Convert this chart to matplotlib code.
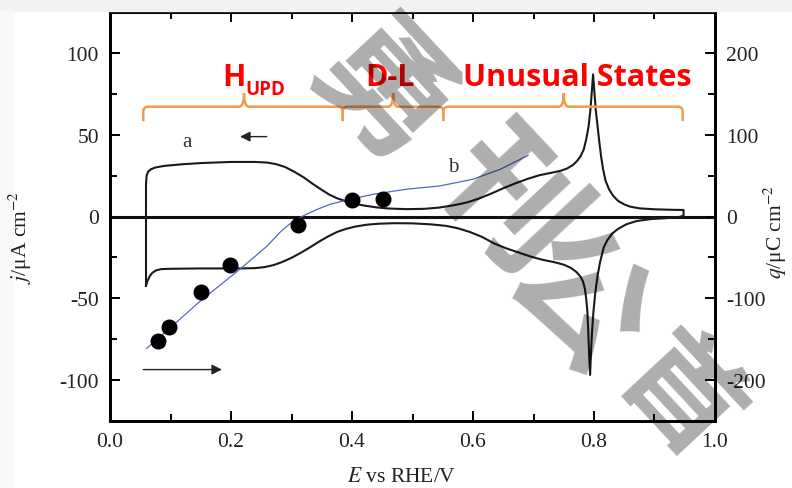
import matplotlib
matplotlib.use("Agg")
import matplotlib.pyplot as plt
from matplotlib.path import Path
from matplotlib.patches import PathPatch, Rectangle
from matplotlib.ticker import MultipleLocator, FormatStrFormatter

# ---------------- data ----------------
# anodic (upper) branch of the CV, j in uA cm^-2
E_up = [0.0595, 0.0595, 0.0605, 0.063, 0.068, 0.075, 0.090, 0.120, 0.150, 0.200,
        0.240, 0.260, 0.275, 0.290, 0.305, 0.320, 0.335, 0.350, 0.362, 0.375,
        0.390, 0.405, 0.420, 0.440, 0.460, 0.490, 0.520, 0.545, 0.570, 0.590,
        0.610, 0.630, 0.650, 0.670, 0.690, 0.710, 0.730, 0.745, 0.755, 0.765,
        0.772, 0.778, 0.783, 0.787, 0.791, 0.794, 0.7965, 0.7985, 0.8005, 0.803,
        0.806, 0.809, 0.812, 0.815, 0.819, 0.825, 0.832, 0.840, 0.850, 0.860,
        0.875, 0.900, 0.930, 0.948]
j_up = [-42.4, 20.0, 25.0, 27.5, 29.0, 30.0, 31.0, 32.0, 32.7, 33.4,
        33.4, 33.0, 32.0, 30.2, 27.3, 24.0, 20.0, 16.3, 13.5, 11.2,
        9.3, 7.8, 6.7, 5.6, 4.9, 4.5, 4.7, 5.5, 7.0, 8.6,
        11.0, 14.0, 17.3, 20.3, 23.0, 25.3, 26.8, 28.0, 29.3, 31.5,
        34.0, 37.0, 41.0, 47.0, 55.0, 65.0, 77.0, 87.0, 77.0, 65.0,
        55.0, 45.0, 36.0, 29.0, 22.0, 16.5, 12.5, 9.5, 7.4, 6.0,
        5.0, 4.4, 4.1, 4.0]
# cathodic (lower) branch, scanned back from high to low potential
E_down = [0.948, 0.940, 0.920, 0.893, 0.870, 0.854, 0.840, 0.830, 0.822, 0.816,
          0.810, 0.806, 0.802, 0.799, 0.7965, 0.7945, 0.7935, 0.792, 0.7905, 0.789,
          0.787, 0.785, 0.782, 0.778, 0.771, 0.762, 0.750, 0.735, 0.715, 0.695,
          0.675, 0.655, 0.635, 0.615, 0.595, 0.575, 0.555, 0.530, 0.500, 0.470,
          0.445, 0.425, 0.405, 0.390, 0.375, 0.360, 0.345, 0.330, 0.315, 0.300,
          0.285, 0.270, 0.255, 0.240, 0.215, 0.150, 0.100, 0.085, 0.076, 0.070,
          0.066, 0.0625, 0.0595]
j_down = [0.5, -0.4, -1.0, -1.6, -2.8, -4.7, -7.5, -10.5, -14.5, -19.0,
          -28.0, -36.0, -47.0, -58.6, -72.0, -88.0, -97.0, -85.0, -70.0, -58.0,
          -50.0, -44.4, -40.0, -37.0, -34.0, -31.5, -29.5, -28.0, -26.5, -24.5,
          -22.0, -19.5, -16.5, -12.5, -9.5, -7.2, -5.7, -4.8, -4.2, -4.1,
          -4.4, -5.0, -6.2, -7.6, -9.5, -12.3, -15.5, -19.0, -22.3, -25.3,
          -27.8, -29.8, -31.0, -31.6, -31.8, -31.8, -32.0, -32.2, -33.0, -34.5,
          -36.3, -39.0, -42.4]

# charge curve (right axis, q in uC cm^-2)
E_q = [0.0606, 0.100, 0.150, 0.215, 0.260, 0.280, 0.292, 0.305, 0.325, 0.345,
       0.364, 0.391, 0.435, 0.490, 0.545, 0.600, 0.645, 0.691]
q_line = [-161.4, -136.0, -103.0, -64.4, -36.0, -20.0, -12.2, -4.5, 2.8, 9.5,
          15.0, 20.0, 27.2, 33.4, 37.4, 45.6, 57.8, 74.8]
# measured charge points
E_dots = [0.080, 0.098, 0.150, 0.199, 0.310, 0.400, 0.452]
q_dots = [-152.0, -135.6, -92.8, -59.6, -10.6, 20.2, 21.2]

# region braces: (left, centre, right) in E
brace_left = [0.055, 0.3846, 0.551]
brace_mid = [0.2215, 0.468, 0.750]
brace_right = [0.3846, 0.551, 0.9466]
region_labels = ["H", "D-L", "Unusual States"]

# watermark characters
wm_chars = ['勇', '刊', '公', '首']

# ---------------- figure ----------------
plt.rcParams['font.family'] = ['Liberation Serif', 'DejaVu Serif']
plt.rcParams['mathtext.fontset'] = 'stix'
plt.rcParams['axes.unicode_minus'] = False

W, H = 792, 489
fig = plt.figure(figsize=(W / 100, H / 100), dpi=100)
fig.patch.set_facecolor('white')
# screenshot border
fig.patches.append(Rectangle((0, 1 - 12 / H), 1, 12 / H, transform=fig.transFigure,
                             color='#f2f2f2', zorder=0))
fig.patches.append(Rectangle((0, 0), 13 / W, 1 - 12 / H, transform=fig.transFigure,
                             color='#f8f8f8', zorder=0))

ax = fig.add_axes([110 / W, 1 - 421.7 / H, 605 / W, (421.7 - 13.3) / H])
ax.set_xlim(0, 1.0)
ax.set_ylim(-125, 125)

tick_col = '#222222'
ax.xaxis.set_major_locator(MultipleLocator(0.2))
ax.xaxis.set_minor_locator(MultipleLocator(0.1))
ax.yaxis.set_major_locator(MultipleLocator(50))
ax.yaxis.set_minor_locator(MultipleLocator(25))
ax.tick_params(which='both', direction='in', top=True, right=False, width=1.4,
               labelsize=15.5, labelcolor=tick_col, pad=8)
ax.tick_params(which='major', length=7)
ax.tick_params(which='minor', length=5)
ax.xaxis.set_major_formatter(FormatStrFormatter('%.1f'))
for s in ax.spines.values():
    s.set_linewidth(2.0)

ax2 = ax.twinx()
ax2.set_ylim(-250, 250)
ax2.yaxis.set_major_locator(MultipleLocator(100))
ax2.yaxis.set_minor_locator(MultipleLocator(50))
ax2.tick_params(which='both', direction='in', width=1.4, labelsize=15.5,
                labelcolor=tick_col, pad=8)
ax2.tick_params(which='major', length=7)
ax2.tick_params(which='minor', length=5)
for s in ax2.spines.values():
    s.set_linewidth(2.0)

# zero line
ax.axhline(0, color='#111111', lw=2.2, zorder=2)

# CV loop
E_cv = E_up + E_down
j_cv = j_up + j_down
ax.plot(E_cv, j_cv, color='#1a1a1a', lw=1.5, zorder=3, solid_joinstyle='round')

# charge curve and points
ax2.plot(E_q, q_line, color='#5068c4', lw=0.9, zorder=3)
ax2.plot(E_dots, q_dots, 'o', color='black', markersize=10.5, zorder=4)

# annotations a / b and scan arrows
ax.text(0.127, 46.2, 'a', fontsize=15, ha='center', va='center', color='#333333')
ax.text(0.567, 30.5, 'b', fontsize=15, ha='center', va='center', color='#333333')
ax.annotate('', xy=(0.215, 48.9), xytext=(0.259, 48.9),
            arrowprops=dict(arrowstyle='-|>', lw=1.0, color='#222222',
                            mutation_scale=15, shrinkA=0, shrinkB=0))
ax.annotate('', xy=(0.185, -93.7), xytext=(0.055, -93.7),
            arrowprops=dict(arrowstyle='-|>', lw=1.0, color='#222222',
                            mutation_scale=15, shrinkA=0, shrinkB=0))

# braces
y0, hook, cusp = 67.2, 8.8, 8.4
rx, ry = 0.008, 3.0
for xa, xm, xb in zip(brace_left, brace_mid, brace_right):
    verts = [(xa, y0 - hook), (xa, y0 - ry), (xa, y0), (xa + rx, y0),
             (xm - rx, y0), (xm, y0), (xm, y0 + cusp),
             (xm, y0 + cusp), (xm, y0), (xm + rx, y0),
             (xb - rx, y0), (xb, y0), (xb, y0 - ry), (xb, y0 - hook)]
    codes = [Path.MOVETO, Path.LINETO, Path.CURVE3, Path.CURVE3,
             Path.LINETO, Path.CURVE3, Path.CURVE3,
             Path.MOVETO, Path.CURVE3, Path.CURVE3,
             Path.LINETO, Path.CURVE3, Path.CURVE3, Path.LINETO]
    ax.add_patch(PathPatch(Path(verts, codes), facecolor='none',
                           edgecolor='#f29b50', lw=1.8, zorder=5))

red_kw = dict(family=['Open Sans', 'Lato', 'DejaVu Sans'], weight='bold',
              color='#ff0000', va='baseline', ha='left', zorder=6)
ax.text(0.185, 80.8, region_labels[0], fontsize=22, **red_kw)
ax.text(0.224, 74.7, 'UPD', fontsize=13.5, **red_kw)
ax.text(0.4215, 80.8, region_labels[1], fontsize=22, **red_kw)
ax.text(0.5835, 80.8, region_labels[2], fontsize=22, **red_kw)

# axis labels
fig.text(402 / W, 1 - 478 / H, r'$E$ vs RHE/V', fontsize=15.5, ha='center',
         va='center', color=tick_col)
fig.text(20 / W, 1 - 237 / H, r'$j$/μA cm$^{-2}$', fontsize=15.5, rotation=90,
         ha='center', va='center', color=tick_col)
fig.text(775 / W, 1 - 232 / H, r'$q$/μC cm$^{-2}$', fontsize=15.5, rotation=90,
         ha='center', va='center', color=tick_col)

# watermark (one glyph each, positions in pixels, sizes in points)
wm_x = [380, 505, 575, 678]
wm_y = [97, 205, 305, 400]
wm_size = [98, 98, 98, 84]
for ch, px, py, fs in zip(wm_chars, wm_x, wm_y, wm_size):
    fig.text(px / W, 1 - py / H, ch, fontsize=fs, rotation=-47,
             rotation_mode='anchor', ha='center', va='center', color='black',
             alpha=0.32, family=['Noto Sans CJK SC', 'DejaVu Sans'],
             weight='bold', zorder=10)

fig.savefig('out.png', dpi=100)
